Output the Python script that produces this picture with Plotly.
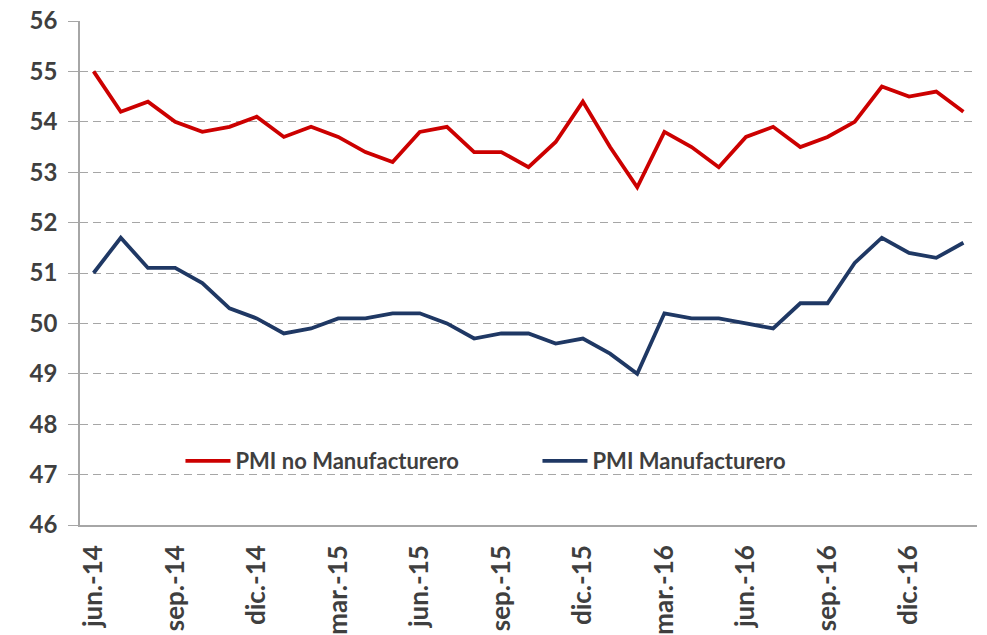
import plotly.graph_objects as go

# Monthly series, jun-2014 .. feb-2017
months = ["jun.-14", "jul.-14", "ago.-14", "sep.-14", "oct.-14", "nov.-14", "dic.-14",
          "ene.-15", "feb.-15", "mar.-15", "abr.-15", "may.-15", "jun.-15", "jul.-15",
          "ago.-15", "sep.-15", "oct.-15", "nov.-15", "dic.-15", "ene.-16", "feb.-16",
          "mar.-16", "abr.-16", "may.-16", "jun.-16", "jul.-16", "ago.-16", "sep.-16",
          "oct.-16", "nov.-16", "dic.-16", "ene.-17", "feb.-17"]

pmi_no_manuf = [55.0, 54.2, 54.4, 54.0, 53.8, 53.9, 54.1, 53.7, 53.9, 53.7, 53.4,
                53.2, 53.8, 53.9, 53.4, 53.4, 53.1, 53.6, 54.4, 53.5, 52.7, 53.8,
                53.5, 53.1, 53.7, 53.9, 53.5, 53.7, 54.0, 54.7, 54.5, 54.6, 54.2]

pmi_manuf = [51.0, 51.7, 51.1, 51.1, 50.8, 50.3, 50.1, 49.8, 49.9, 50.1, 50.1,
             50.2, 50.2, 50.0, 49.7, 49.8, 49.8, 49.6, 49.7, 49.4, 49.0, 50.2,
             50.1, 50.1, 50.0, 49.9, 50.4, 50.4, 51.2, 51.7, 51.4, 51.3, 51.6]

y_ticks = list(range(46, 57))

idx = list(range(len(months)))
label_idx = idx[::3]
label_text = [months[i] for i in label_idx]
boundaries = [i - 0.5 for i in range(0, len(months) + 1, 3)]

FONT = "Lato"
TXT = "#3f3f3f"
GRID = "#a6a6a6"

fig = go.Figure()
fig.add_trace(go.Scatter(
    x=idx, y=pmi_no_manuf, mode="lines", name="PMI no Manufacturero",
    line=dict(color="#cc0000", width=3.8), legend="legend",
))
fig.add_trace(go.Scatter(
    x=idx, y=pmi_manuf, mode="lines", name="PMI Manufacturero",
    line=dict(color="#1f3864", width=3.8), legend="legend2",
))

legend_common = dict(
    orientation="h", yanchor="middle", xanchor="left",
    bgcolor="rgba(0,0,0,0)",
    font=dict(family=FONT, size=22, color=TXT, weight="bold"),
    itemwidth=45,
)

fig.update_layout(
    width=987, height=635,
    margin=dict(l=80, r=10, t=21, b=110),
    paper_bgcolor="white", plot_bgcolor="white",
    showlegend=True,
    legend=dict(x=0.112, y=0.127, **legend_common),
    legend2=dict(x=0.51, y=0.127, **legend_common),
    xaxis=dict(
        range=[-0.5, len(months) - 0.5], automargin=False,
        tickmode="array", tickvals=label_idx, ticktext=label_text,
        tickangle=-90, ticks="", showgrid=False, zeroline=False,
        showline=True, linecolor=GRID, linewidth=1.5,
        tickfont=dict(family=FONT, size=26, color=TXT, weight="bold"),
        ticklabelstandoff=8,
    ),
    xaxis2=dict(
        overlaying="x", anchor="y", side="bottom", automargin=False,
        range=[-0.5, len(months) - 0.5],
        tickmode="array", tickvals=boundaries, showticklabels=False,
        ticks="outside", ticklen=7, tickcolor=GRID, tickwidth=1.5,
        showgrid=False, zeroline=False, showline=False,
    ),
    yaxis=dict(
        range=[46, 56], tickmode="array", tickvals=y_ticks, automargin=False,
        showgrid=True, gridcolor=GRID, griddash="8px,5px", gridwidth=1.2,
        zeroline=False, showline=True, linecolor=GRID, linewidth=1.5,
        ticks="outside", ticklen=10, tickcolor=GRID,
        tickfont=dict(family=FONT, size=24, color=TXT, weight="bold"),
        ticklabelstandoff=6,
    ),
)

fig.write_html("out.html")
